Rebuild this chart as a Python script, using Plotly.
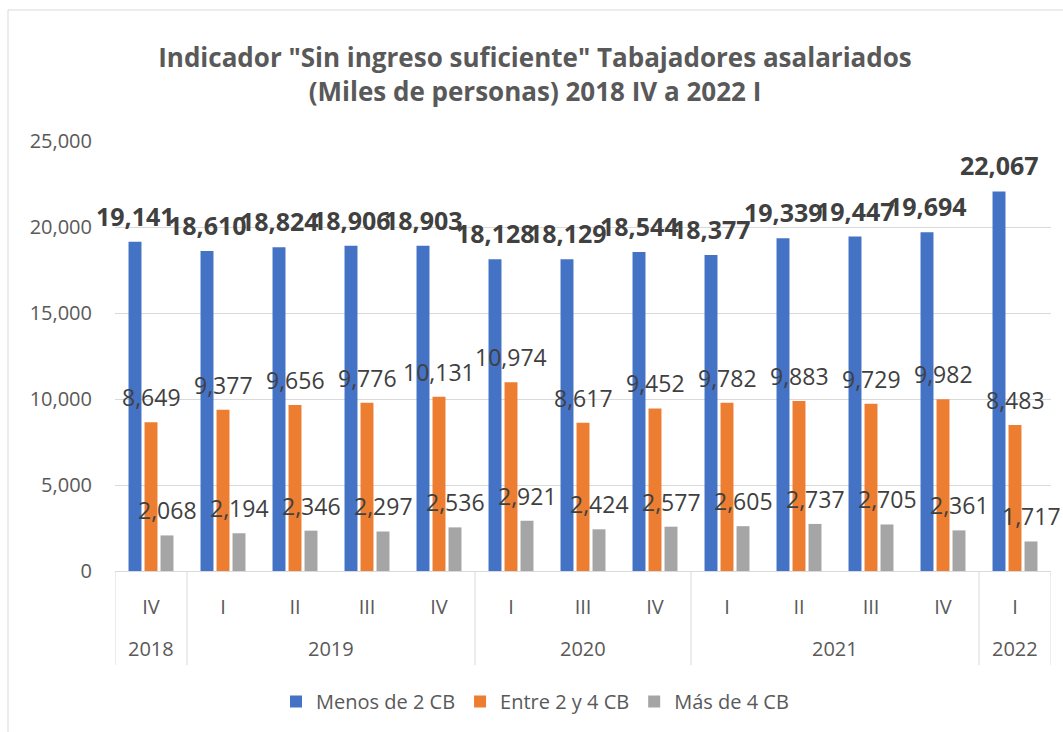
import plotly.graph_objects as go

# ---- data ----
years = ["2018", "2019", "2019", "2019", "2019", "2020", "2020", "2020",
         "2021", "2021", "2021", "2021", "2022"]
quarters = ["IV", "I", "II", "III", "IV", "I", "III", "IV",
            "I", "II", "III", "IV", "I"]
menos_2cb = [19141, 18610, 18824, 18906, 18903, 18128, 18129, 18544,
             18377, 19339, 19447, 19694, 22067]
entre_2_4cb = [8649, 9377, 9656, 9776, 10131, 10974, 8617, 9452,
               9782, 9883, 9729, 9982, 8483]
mas_4cb = [2068, 2194, 2346, 2297, 2536, 2921, 2424, 2577,
           2605, 2737, 2705, 2361, 1717]
series_names = ["Menos de 2 CB", "Entre 2 y 4 CB", "Más de 4 CB"]
series_values = [menos_2cb, entre_2_4cb, mas_4cb]
colors = ["#4472C4", "#ED7D31", "#A5A5A5"]

FONT = "Open Sans"
W, H = 1063, 732
ML, MR, MT, MB = 115, 12, 141, 161
PW, PH = W - ML - MR, H - MT - MB

bargap = 1 / 3
bargroupgap = 0.19

positions = list(range(len(quarters)))


def px_to_paper_x(px):
    return (px - ML) / PW


def px_to_paper_y(py):
    return (H - MB - py) / PH


fig = go.Figure()
for name, vals, col in zip(series_names, series_values, colors):
    fig.add_trace(go.Bar(
        x=positions, y=vals, name=name,
        marker=dict(color=col, line=dict(width=0)),
        hovertext=[f"{y} {q}" for y, q in zip(years, quarters)],
    ))

annotations = []
# data labels (on the bar x scale)
slot = (1 - bargap) / 3
offsets = [-slot, 0, slot]
for k, (vals, off) in enumerate(zip(series_values, offsets)):
    for i, v in zip(positions, vals):
        annotations.append(dict(
            x=i + off, y=v, xref="x", yref="y",
            text=(f"<b>{v:,}</b>" if k == 0 else f"{v:,}"),
            showarrow=False, yanchor="bottom", xanchor="center",
            yshift=7,
            font=dict(family=FONT, size=(25 if k == 0 else 23), color="#404040"),
        ))

# year groups: labels + dividers
groups = []
for i, y in zip(positions, years):
    if groups and groups[-1][0] == y:
        groups[-1][2] = i
    else:
        groups.append([y, i, i])

shapes = []
div_top = px_to_paper_y(571)
div_bot = px_to_paper_y(665)
bounds = sorted({g[1] - 0.5 for g in groups} | {g[2] + 0.5 for g in groups})
for b in bounds:
    shapes.append(dict(
        type="line", xref="x", yref="paper", x0=b, x1=b, y0=div_top, y1=div_bot,
        line=dict(color="#D9D9D9", width=1),
    ))
for name, a, b in groups:
    annotations.append(dict(
        x=(a + b) / 2, y=px_to_paper_y(648), xref="x", yref="paper",
        text=name, showarrow=False, xanchor="center", yanchor="middle",
        font=dict(family=FONT, size=20, color="#595959"),
    ))

# chart-area border
shapes.append(dict(
    type="rect", xref="paper", yref="paper",
    x0=px_to_paper_x(8), x1=px_to_paper_x(1075),
    y0=px_to_paper_y(745), y1=px_to_paper_y(10),
    line=dict(color="#D9D9D9", width=1), fillcolor="rgba(0,0,0,0)",
    layer="below",
))

fig.update_layout(
    width=W, height=H,
    margin=dict(l=ML, r=MR, t=MT, b=MB, autoexpand=False),
    template="none",
    paper_bgcolor="white", plot_bgcolor="white",
    font=dict(family=FONT, color="#595959"),
    title=dict(
        text='<b>Indicador "Sin ingreso suficiente" Tabajadores asalariados<br>(Miles de personas) 2018 IV a 2022 I</b>',
        font=dict(family=FONT, size=26, color="#595959"),
        xref="paper", x=px_to_paper_x(535), xanchor="center",
        yref="container", y=1 - 67 / H, yanchor="middle",
    ),
    barmode="group", bargap=bargap, bargroupgap=bargroupgap,
    showlegend=True,
    legend=dict(
        orientation="h", x=px_to_paper_x(535), xanchor="center",
        y=px_to_paper_y(682), yanchor="top",
        font=dict(family=FONT, size=20, color="#595959"),
        bgcolor="rgba(0,0,0,0)",
    ),
    annotations=annotations,
    shapes=shapes,
)

fig.update_xaxes(
    range=[-0.5, len(quarters) - 0.5], automargin=False,
    tickmode="array", tickvals=positions, ticktext=quarters,
    showgrid=False, zeroline=False,
    showline=True, linecolor="#D9D9D9", linewidth=1,
    ticks="", ticklabelstandoff=18,
    tickfont=dict(family=FONT, size=20, color="#595959"),
)
fig.update_yaxes(
    range=[0, 25000], dtick=5000, tickformat=",",
    automargin=False,
    showgrid=True, gridcolor="#D9D9D9", gridwidth=1,
    zeroline=False, showline=False, ticks="",
    ticklabelstandoff=22,
    tickfont=dict(family=FONT, size=20, color="#595959"),
)

fig.write_html("out.html", config={"displayModeBar": False})
with open("out.html", "r", encoding="utf-8") as f:
    html = f.read()
html = html.replace("<body>", '<body style="margin:0;overflow:hidden">', 1)
with open("out.html", "w", encoding="utf-8") as f:
    f.write(html)
